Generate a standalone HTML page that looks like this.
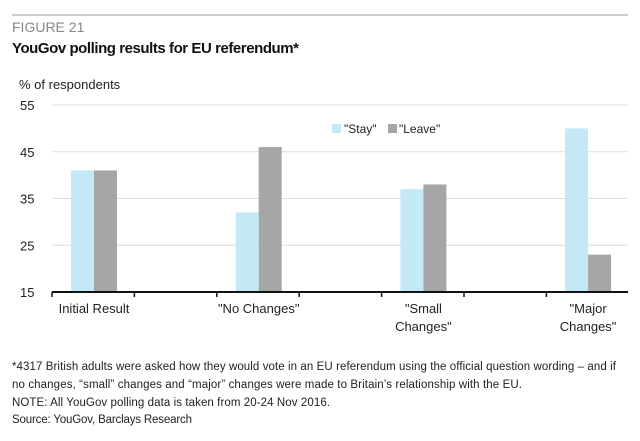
<!DOCTYPE html>
<html><head><meta charset="utf-8"><style>
body{margin:0;background:#fff;}
svg{display:block;font-family:"Liberation Sans Narrow","Liberation Sans",sans-serif;}
</style></head><body>
<svg id="c" width="640" height="441" viewBox="0 0 640 441">
<line x1="12" y1="15" x2="628" y2="15" stroke="#bbb" stroke-width="1.5"/>
<text x="12" y="32" font-size="14" fill="#888">FIGURE 21</text>
<text x="12" y="53" font-size="15" font-weight="bold" fill="#111" textLength="287">YouGov polling results for EU referendum*</text>
<text x="19" y="89" font-size="13" fill="#222">% of respondents</text>
<g id="grid"></g><g id="bars"></g><g id="xaxis"></g>
<g>
<rect x="332" y="124" width="9" height="9" fill="#c3e9f7"/>
<text x="344" y="133" font-size="12" fill="#222">"Stay"</text>
<rect x="388" y="124" width="9" height="9" fill="#a6a6a6"/>
<text x="399" y="133" font-size="12" fill="#222">"Leave"</text>
</g>
<g font-size="11.5" fill="#222">
<text x="12" y="370" textLength="604">*4317 British adults were asked how they would vote in an EU referendum using the official question wording – and if</text>
<text x="12" y="388" textLength="510">no changes, “small” changes and “major” changes were made to Britain’s relationship with the EU.</text>
<text x="12" y="406" textLength="318">NOTE: All YouGov polling data is taken from 20-24 Nov 2016.</text>
<text x="12" y="423" textLength="180">Source: YouGov, Barclays Research</text>
</g>
</svg>
<script>
const categories=[["Initial Result"],["\"No Changes\""],["\"Small","Changes\""],["\"Major","Changes\""]];
const stay=[41,32,37,50];
const leave=[41,46,38,23];
const yTicks=[15,25,35,45,55];
const NS="http://www.w3.org/2000/svg";
const x0=52,x1=628,yBase=292,yTop=105,vMin=15,vMax=55;
const y=v=>yBase-(v-vMin)/(vMax-vMin)*(yBase-yTop);
const cx=i=>94+i*164.7;
const bw=23;
function mk(t,a,p){const e=document.createElementNS(NS,t);for(const k in a)e.setAttribute(k,a[k]);p.appendChild(e);return e;}
const g=document.getElementById('grid');
yTicks.forEach(v=>{
 if(v>vMin){const l=mk('line',{x1:x0,x2:x1,y1:y(v),y2:y(v),stroke:'#ddd','stroke-width':1},g);
 
 }
 const t=mk('text',{x:20,y:y(v)+5,'font-size':13,fill:'#222'},g);t.textContent=v;
 
 
});
const b=document.getElementById('bars');
categories.forEach((c,i)=>{
 const r1=mk('rect',{x:cx(i)-bw,y:y(stay[i]),width:bw,height:yBase-y(stay[i]),fill:'#c3e9f7'},b);
 
 
 const r2=mk('rect',{x:cx(i),y:y(leave[i]),width:bw,height:yBase-y(leave[i]),fill:'#a6a6a6'},b);
 
 
});
const xa=document.getElementById('xaxis');
const ax=mk('line',{x1:x0,x2:x1,y1:yBase,y2:yBase,stroke:'#111','stroke-width':2},xa);


for(let k=0;k<8;k++){const tx=x0+k*82.4;if(tx>x1)break;
 const tk=mk('line',{x1:tx,x2:tx,y1:yBase,y2:yBase+5,stroke:'#111','stroke-width':1.5},xa);
 
 }
categories.forEach((c,i)=>{
 c.forEach((ln,j)=>{
  const t=mk('text',{x:cx(i),y:313+j*18,'font-size':13,fill:'#222','text-anchor':'middle'},xa);
  t.textContent=ln;
  
  
 });
});
</script>
</body></html>
